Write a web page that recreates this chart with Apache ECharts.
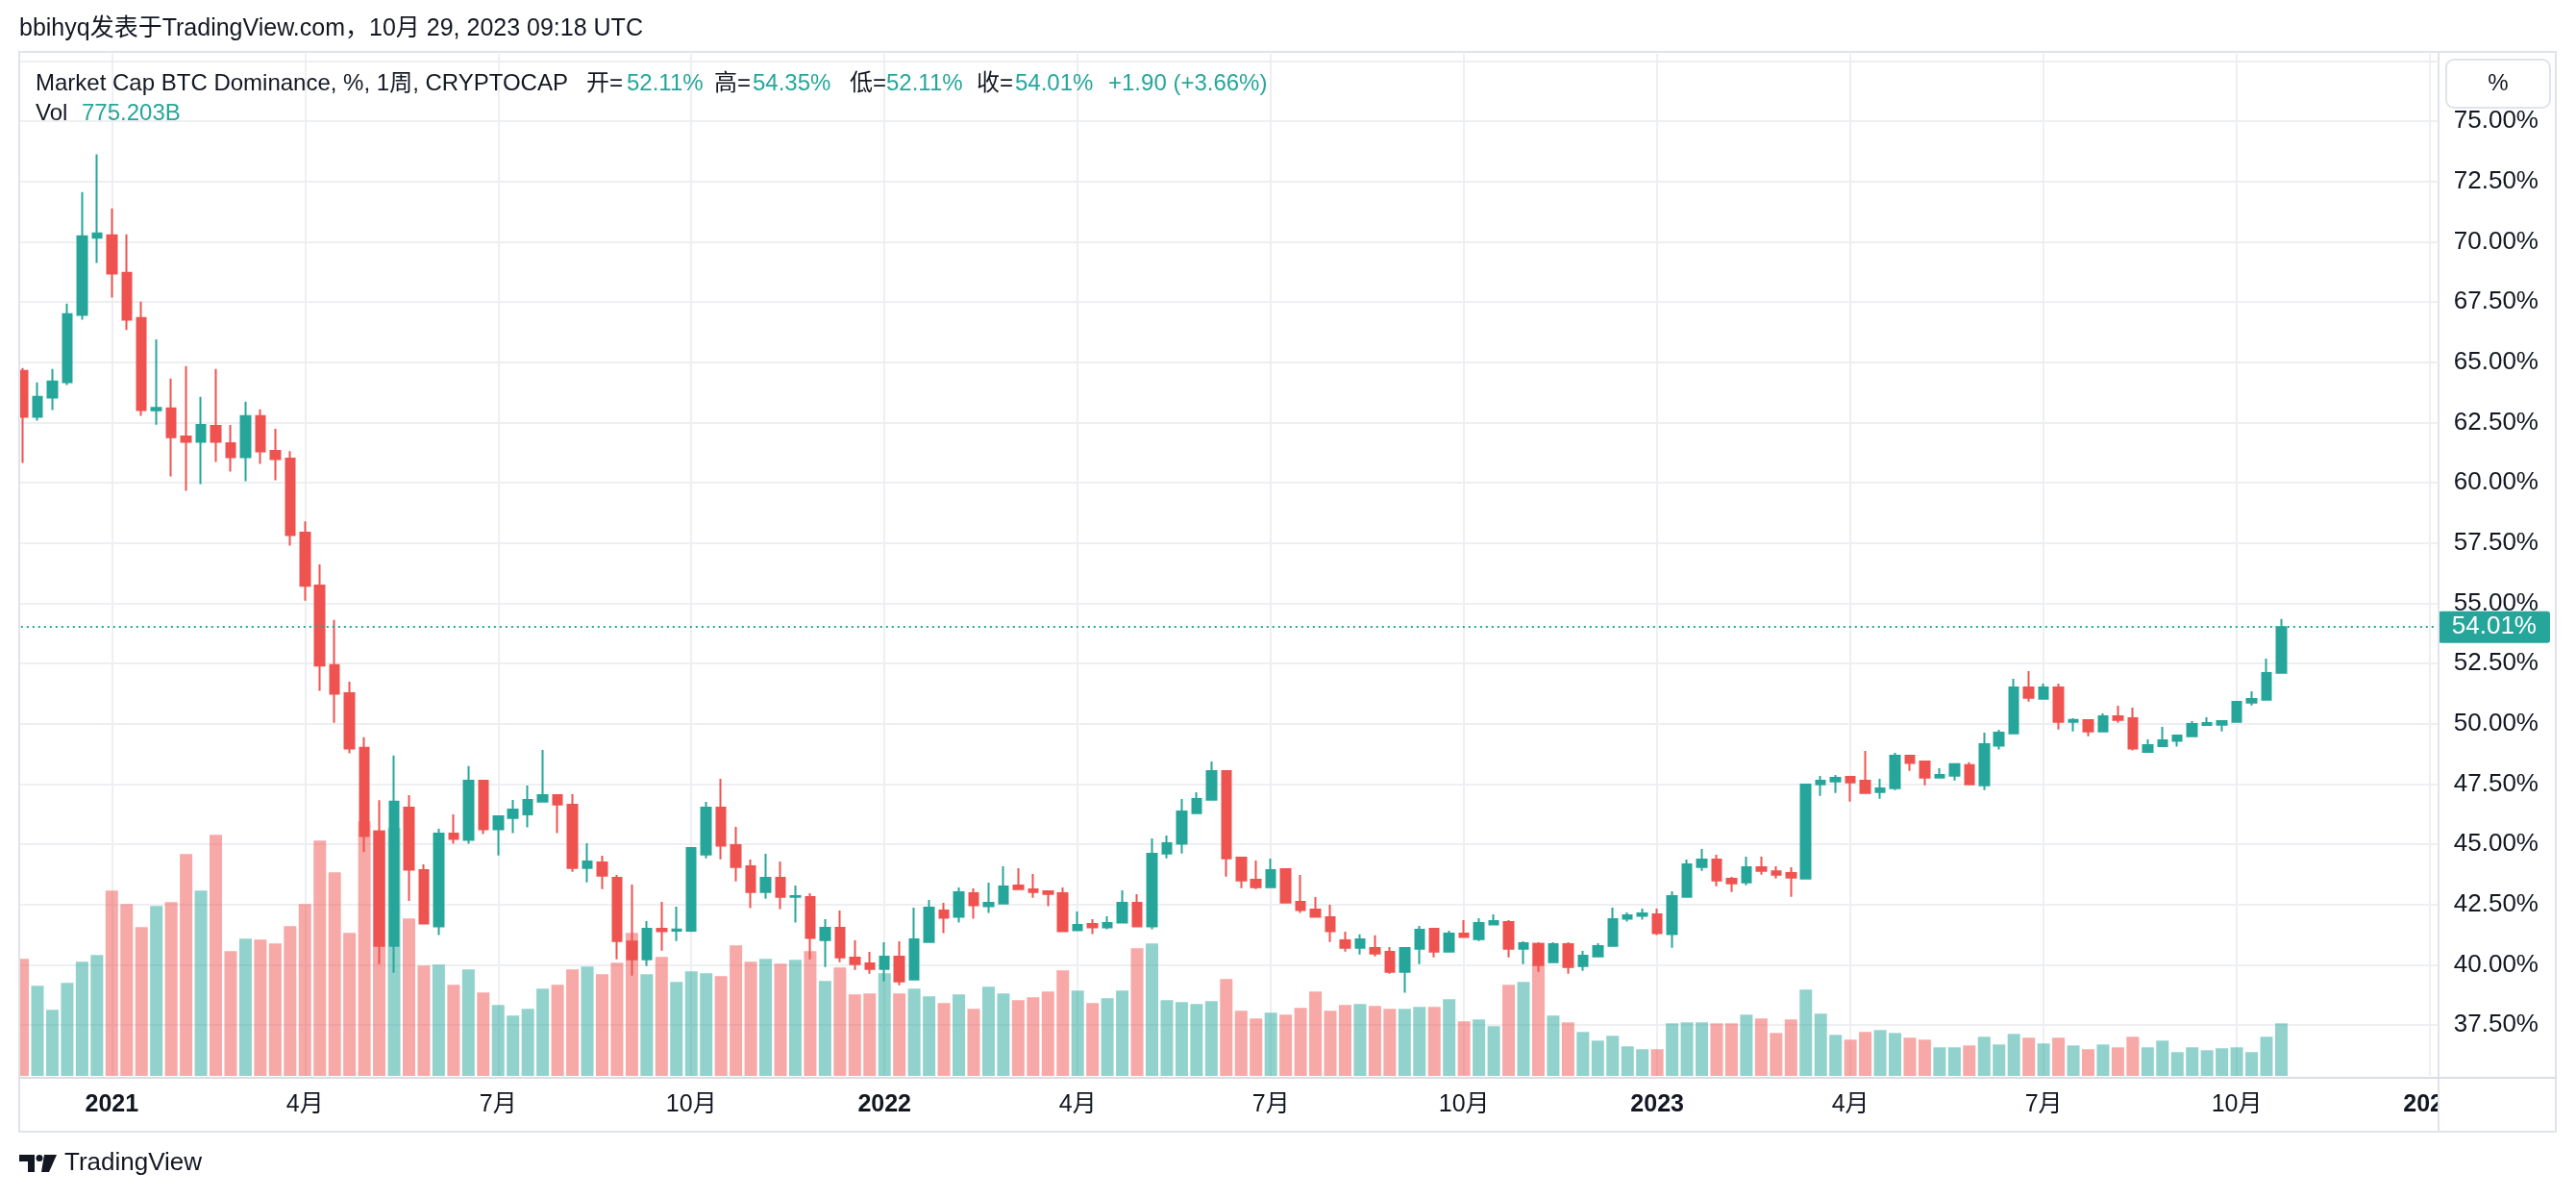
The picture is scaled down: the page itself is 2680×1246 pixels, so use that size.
<!DOCTYPE html>
<html><head><meta charset="utf-8">
<script src="https://cdn.jsdelivr.net/npm/echarts@6/dist/echarts.min.js"></script>
<style>html,body{margin:0;padding:0;background:#fff}#c{width:2680px;height:1246px}</style>
</head><body><div id="c"></div><script>
// ---------- DATA ----------
const startDate = '2020-11-23';   // first weekly candle (Monday)
const totalSlots = 163;           // weekly slots on the time axis (incl. empty future space)

const open = [64.64,62.73,63.53,64.17,66.96,70.16,70.26,68.71,66.83,63.00,
63.08,61.92,61.70,62.36,61.64,61.06,62.76,61.32,61.00,57.93,
55.73,52.43,51.27,49.00,45.52,40.79,46.52,43.93,41.59,45.44,
45.18,47.64,45.62,46.09,46.24,46.77,47.04,46.64,44.02,44.25,
43.61,40.97,40.23,41.49,41.41,41.41,44.58,46.52,44.96,44.09,
43.02,43.61,42.82,42.81,41.03,41.53,40.30,40.06,39.83,40.34,
39.39,40.95,42.25,41.99,42.97,42.43,42.54,43.29,43.13,43.05,
42.97,41.43,41.69,41.55,41.75,42.57,41.59,44.62,45.02,46.29,
46.85,48.04,44.45,43.53,43.22,43.97,42.61,42.29,41.97,41.02,
40.71,40.70,40.54,39.71,40.67,41.49,40.55,41.29,41.07,41.67,
41.77,40.67,40.86,40.11,40.86,39.95,40.35,40.79,41.91,42.03,
42.09,41.27,42.82,44.06,44.37,43.57,43.42,44.05,43.88,43.81,
43.58,47.49,47.61,47.80,47.64,47.17,47.33,48.67,48.43,47.77,
47.85,48.28,47.45,49.09,49.60,51.51,51.04,51.51,50.08,50.15,
49.68,50.31,50.23,48.83,49.07,49.29,49.48,49.95,49.96,50.08,
50.88,51.00,52.11];

const high = [64.76,64.16,64.72,67.43,72.06,73.62,71.38,70.30,67.51,65.95,
64.32,64.84,63.56,64.72,62.40,63.36,63.04,62.24,61.31,58.40,
56.61,54.31,51.75,49.44,46.83,48.68,47.04,44.17,45.64,46.24,
48.24,47.64,46.20,46.84,47.44,48.91,47.04,47.08,45.04,44.53,
43.73,43.33,41.81,42.61,42.41,44.84,46.76,47.72,45.72,44.37,
44.61,44.29,43.29,42.97,41.89,42.25,41.02,40.54,40.94,40.98,
42.37,42.69,42.57,43.21,43.17,43.41,44.09,44.01,43.77,43.09,
43.21,42.21,41.89,42.01,43.09,42.93,45.24,45.36,46.88,47.16,
48.43,48.04,44.45,44.33,44.41,43.97,43.73,42.81,42.49,41.37,
41.26,41.22,40.74,40.70,41.61,41.49,41.41,41.85,41.93,42.09,
41.85,40.98,40.94,40.94,40.94,40.58,40.90,42.37,42.17,42.33,
42.33,43.05,44.37,44.80,44.57,43.65,44.49,44.49,44.09,44.05,
47.48,47.84,47.88,47.80,48.87,47.72,48.79,48.67,48.47,48.16,
48.32,48.40,49.63,49.75,51.86,52.18,51.67,51.67,50.23,50.15,
50.43,50.75,50.67,49.35,49.87,49.51,50.11,50.27,50.11,50.91,
51.35,52.70,54.35];

const low = [60.82,62.57,63.01,64.05,66.76,69.12,67.68,66.33,62.77,62.41,
60.26,59.66,59.94,60.86,60.46,60.06,60.78,60.10,57.39,55.11,
51.37,50.04,48.77,44.67,40.03,39.67,42.65,41.67,41.23,45.02,
45.02,45.42,44.54,45.46,45.70,46.77,45.46,43.86,43.42,43.14,
40.23,39.55,39.95,40.59,40.99,41.36,44.42,44.38,43.46,42.35,
42.74,42.31,41.75,40.23,39.91,40.11,39.79,39.63,39.31,39.15,
39.39,40.95,41.31,41.75,41.91,42.15,42.54,43.14,42.78,42.43,
41.39,41.43,41.27,41.47,41.75,41.55,41.47,44.42,44.62,46.29,
46.85,43.66,43.18,43.14,43.22,42.58,42.15,41.99,40.95,40.55,
40.43,40.35,39.63,38.84,40.03,40.31,40.55,41.15,40.99,41.67,
40.31,40.03,39.71,40.11,39.63,39.75,40.31,40.79,41.79,41.87,
41.23,40.71,42.82,43.90,43.26,43.02,43.30,43.74,43.58,42.82,
43.58,47.01,47.13,46.77,47.13,46.89,47.25,48.05,47.45,47.77,
47.65,47.45,47.25,48.93,49.60,50.92,51.04,49.76,49.68,49.48,
49.64,50.04,48.89,48.83,49.07,49.05,49.48,49.95,49.68,50.08,
50.76,51.00,52.11];

const close = [62.73,63.56,64.20,66.99,70.22,70.34,68.68,66.76,63.01,63.10,
61.89,61.70,62.40,61.70,61.06,62.76,61.30,60.98,57.83,55.72,
52.41,51.25,48.97,45.34,40.79,46.77,43.95,41.71,45.44,45.22,
47.64,45.62,46.16,46.44,46.84,47.04,46.65,44.02,44.29,43.70,
40.99,40.23,41.49,41.39,41.46,44.84,46.52,44.94,44.06,43.02,
43.61,42.82,42.85,41.11,41.53,40.31,40.03,39.83,40.34,39.31,
41.06,42.37,41.95,43.01,42.47,42.57,43.25,43.14,43.02,42.94,
41.39,41.65,41.55,41.73,42.57,41.59,44.61,45.04,46.36,46.88,
48.04,44.42,43.50,43.22,43.93,42.58,42.27,41.99,41.39,40.71,
41.06,40.47,39.71,40.70,41.45,40.55,41.29,41.15,41.73,41.81,
40.67,40.90,39.99,40.86,39.91,40.38,40.78,41.89,42.05,42.13,
41.31,42.85,44.17,44.37,43.50,43.38,44.05,43.90,43.74,43.62,
47.48,47.64,47.76,47.57,47.13,47.32,48.67,48.37,47.77,47.88,
48.32,47.49,49.15,49.63,51.51,51.08,51.51,50.08,50.16,49.68,
50.31,50.16,48.97,49.11,49.31,49.51,49.99,50.03,50.11,50.91,
51.03,52.10,54.01];

// weekly volume, billions
const volume = [1725,1328,974,1370,1682,1781,2731,2533,2192,2504,
2561,3269,2731,3553,1838,2022,2008,1951,2207,2533,
3468,3000,2107,3751,3624,3652,2320,1625,1640,1342,
1569,1229,1044,889,988,1285,1342,1569,1611,1498,
1668,2107,1498,1753,1385,1540,1512,1470,1923,1682,
1725,1654,1711,1838,1399,1597,1200,1214,1512,1214,
1285,1172,1073,1200,988,1314,1214,1115,1158,1243,
1555,1257,1073,1144,1257,1881,1951,1115,1087,1059,
1101,1427,959,846,931,903,1002,1243,959,1044,
1059,1030,988,988,1016,1016,1129,804,832,733,
1342,1385,1966,889,789,648,520,591,435,393,
393,775,789,789,775,775,903,846,633,832,
1271,917,605,534,648,676,633,563,534,421,
421,449,577,463,619,563,478,563,449,393,
463,421,577,421,520,350,421,378,407,421,
350,577,775.203];

const tickLabels = {
  '2021-01-04':'2021','2021-04-05':'4月','2021-07-05':'7月','2021-10-04':'10月',
  '2022-01-03':'2022','2022-04-04':'4月','2022-07-04':'7月','2022-10-03':'10月',
  '2023-01-02':'2023','2023-04-03':'4月','2023-07-03':'7月','2023-10-02':'10月',
  '2024-01-01':'2024'
};
const yearLabels = ['2021','2022','2023','2024'];

const titleText = 'bbihyq发表于TradingView.com，10月 29, 2023 09:18 UTC';
const symbolText = 'Market Cap BTC Dominance, %, 1周, CRYPTOCAP';
const legendItems = [
  ['开=', '52.11%', 610, 652],
  ['高=', '54.35%', 743, 783],
  ['低=', '52.11%', 884, 922],
  ['收=', '54.01%', 1016, 1056]
];
const changeText = '+1.90 (+3.66%)';
const volText = '775.203B';

// ---------- BUILD ----------
const categories = [];
{
  const t0 = Date.parse(startDate + 'T00:00:00Z');
  for (let i = 0; i < totalSlots; i++) {
    categories.push(new Date(t0 + i * 7 * 86400000).toISOString().slice(0, 10));
  }
}
const UP = '#26a69a', DOWN = '#ef5350';
const UPV = 'rgba(38,166,154,0.5)', DOWNV = 'rgba(239,83,80,0.5)';
const FONT = "'Liberation Sans', Arial, 'Noto Sans CJK SC', sans-serif";
const TXT = '#131722';
const GRID = '#eeeff2';
const BORDER = '#e0e3eb';

const candleData = open.map((o, i) => [o, close[i], low[i], high[i]]);
const volData = volume.map((v, i) => ({
  value: v, itemStyle: { color: close[i] >= open[i] ? UPV : DOWNV }
}));
const lastClose = close[close.length - 1];

const L = 15.8, R = 2680 - 2535.8;
const pxPerUnit = 25.07;
const priceTop = 126 - 2.5 * pxPerUnit;           // 77.5 at top
const priceHeight = 42.5 * pxPerUnit;              // 77.5 -> 35
const volTop = 56, volBottomY = 1119;
const volPerPx = 775.203 / 54.7;
const volMax = (volBottomY - volTop) * volPerPx;

const isTick = (idx, val) => !!tickLabels[val];

const graphics = [
  { type: 'text', left: 20, top: 18, z: 100, style: { text: titleText, font: '25px ' + FONT, fill: TXT } },
  // masks
  { type: 'rect', z: 90, shape: { x: 0, y: 50, width: 19, height: 1140 }, style: { fill: '#fff' } },
  { type: 'rect', z: 90, shape: { x: 2538, y: 1123, width: 120, height: 53 }, style: { fill: '#fff' } },
  // borders
  { type: 'rect', z: 100, shape: { x: 20, y: 54, width: 2639, height: 1123 }, style: { fill: null, stroke: BORDER, lineWidth: 2 } },
  { type: 'line', z: 100, shape: { x1: 2537, y1: 54, x2: 2537, y2: 1177 }, style: { stroke: BORDER, lineWidth: 2 } },
  { type: 'line', z: 100, shape: { x1: 20, y1: 1121, x2: 2659, y2: 1121 }, style: { stroke: '#dadde4', lineWidth: 2 } },
  // % button
  { type: 'rect', z: 100, shape: { x: 2545, y: 62, width: 108, height: 50, r: 8 }, style: { fill: '#fff', stroke: BORDER, lineWidth: 2 } },
  { type: 'text', z: 101, x: 2599, y: 87, style: { text: '%', font: '24px ' + FONT, fill: TXT, align: 'center', verticalAlign: 'middle' } },
  // legend
  { type: 'text', z: 100, x: 37, y: 87, style: { text: symbolText, font: '24px ' + FONT, fill: TXT, verticalAlign: 'middle' } },
  { type: 'text', z: 100, x: 1153, y: 87, style: { text: changeText, font: '24px ' + FONT, fill: UP, verticalAlign: 'middle' } },
  { type: 'text', z: 100, x: 37, y: 118, style: { text: 'Vol', font: '24px ' + FONT, fill: TXT, verticalAlign: 'middle' } },
  { type: 'text', z: 100, x: 85, y: 118, style: { text: volText, font: '24px ' + FONT, fill: UP, verticalAlign: 'middle' } },
  // TradingView logo
  { type: 'polygon', z: 100, shape: { points: [[20,1201],[36,1201],[36,1219],[29,1219],[29,1208],[20,1208]] }, style: { fill: TXT } },
  { type: 'circle', z: 100, shape: { cx: 41, cy: 1204.5, r: 3.5 }, style: { fill: TXT } },
  { type: 'polygon', z: 100, shape: { points: [[46,1201],[59,1201],[51,1219],[43,1219]] }, style: { fill: TXT } },
  { type: 'text', z: 100, x: 67, y: 1210, style: { text: 'TradingView', font: '26px ' + FONT, fill: TXT, verticalAlign: 'middle' } }
];
legendItems.forEach(([k, v, xk, xv]) => {
  graphics.push({ type: 'text', z: 100, x: xk, y: 87, style: { text: k, font: '24px ' + FONT, fill: TXT, verticalAlign: 'middle' } });
  graphics.push({ type: 'text', z: 100, x: xv, y: 87, style: { text: v, font: '24px ' + FONT, fill: UP, verticalAlign: 'middle' } });
});

const option = {
  animation: false,
  backgroundColor: '#fff',
  grid: [
    { left: L, right: R, top: priceTop, height: priceHeight },
    { left: L, right: R, top: volTop, bottom: 1246 - volBottomY }
  ],
  xAxis: [
    { type: 'category', gridIndex: 0, data: categories, show: false, boundaryGap: true },
    { type: 'category', gridIndex: 1, data: categories, boundaryGap: true,
      axisLine: { show: false }, axisTick: { show: false },
      axisLabel: {
        interval: isTick, margin: 18, fontSize: 25, color: TXT, fontFamily: FONT,
        formatter: v => { const t = tickLabels[v]; if (!t) return ''; return yearLabels.includes(t) ? '{y|' + t + '}' : t; },
        rich: { y: { fontSize: 25, fontWeight: 'bold', color: TXT, fontFamily: FONT } }
      },
      splitLine: { show: true, interval: isTick, alignWithLabel: true, lineStyle: { color: GRID, width: 2 } }
    }
  ],
  yAxis: [
    { type: 'value', gridIndex: 0, position: 'right', min: 35, max: 77.5, interval: 2.5,
      axisLine: { show: false }, axisTick: { show: false },
      axisLabel: { margin: 17, fontSize: 26, color: TXT, fontFamily: FONT, showMinLabel: false, showMaxLabel: false,
        formatter: v => v.toFixed(2) + '%' },
      splitLine: { show: true, showMinLine: false, lineStyle: { color: GRID, width: 2 } }
    },
    { type: 'value', gridIndex: 1, min: 0, max: volMax, show: false, splitLine: { show: false } }
  ],
  series: [
    { type: 'bar', xAxisIndex: 1, yAxisIndex: 1, data: volData, barWidth: 13, z: 1 },
    { type: 'candlestick', xAxisIndex: 0, yAxisIndex: 0, data: candleData, barWidth: 10, z: 3,
      itemStyle: { color: UP, color0: DOWN, borderColor: UP, borderColor0: DOWN, borderWidth: 2 },
      markLine: {
        silent: true, symbol: ['none', 'none'], animation: false,
        data: [{ yAxis: lastClose }],
        lineStyle: { color: UP, type: [2, 4], width: 2 },
        label: { show: true, position: 'end', distance: 1, formatter: lastClose.toFixed(2) + '%',
          color: '#fff', backgroundColor: UP, padding: [4, 14, 3, 14], borderRadius: 3,
          fontSize: 26, fontFamily: FONT }
      }
    }
  ],
  graphic: graphics
};
const chart = echarts.init(document.getElementById('c'), null, { renderer: 'canvas' });
chart.setOption(option);
</script></body></html>
